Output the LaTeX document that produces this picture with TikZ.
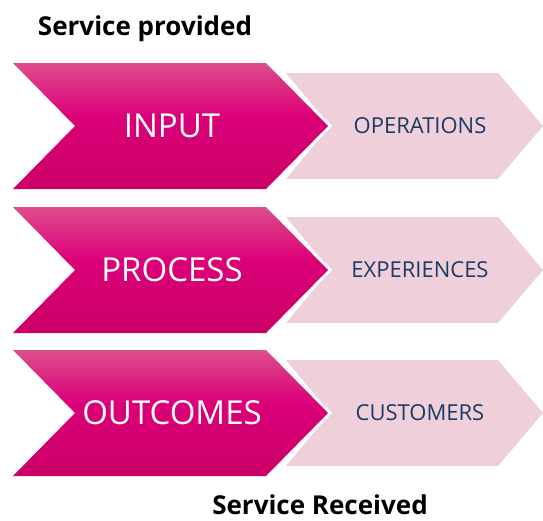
\documentclass[tikz,border=0pt]{standalone}
\usepackage{fontspec}
\setmainfont{Open Sans}
\usetikzlibrary{positioning}
\definecolor{pinktop}{HTML}{DD4E8C}
\definecolor{pinkvivid}{HTML}{DB0078}
\definecolor{pinkbot}{HTML}{CB0068}
\definecolor{pinklight}{HTML}{EFD0DA}
\definecolor{navytext}{HTML}{1B3A66}
\pgfdeclareverticalshading{chevshade}{100bp}{color(0bp)=(pinkbot); color(25bp)=(pinkbot); color(54bp)=(pinkvivid); color(75bp)=(pinktop); color(100bp)=(pinktop)}
\tikzset{
  darkchev/.style={shading=chevshade},
  lightchev/.style={fill=pinklight},
  stagetext/.style={text=white, font=\fontsize{33}{38}\selectfont, inner sep=0pt},
  whattext/.style={text=navytext, font=\fontsize{22}{26}\selectfont, inner sep=0pt},
  heading/.style={font=\fontsize{26}{30}\selectfont\bfseries, inner sep=0pt}
}
\begin{document}
\begin{tikzpicture}[x=1pt, y=-1pt]
\useasboundingbox (0,0) rectangle (543,520);
\foreach \y/\stage/\what [count=\i] in {126/INPUT/OPERATIONS, 270/PROCESS/EXPERIENCES, 413/OUTCOMES/CUSTOMERS}{
  % light chevron behind
  \fill[lightchev] (286,\y-53) -- (498,\y-53) -- (543,\y) -- (498,\y+53) -- (286,\y+53) -- (330,\y) -- cycle;
  % white rim, then the dark chevron
  \draw[white, line width=6pt, line join=miter] (13,\y-63) -- (266,\y-63) -- (328,\y) -- (266,\y+63) -- (13,\y+63) -- (75,\y) -- cycle;
  \shade[darkchev] (13,\y-63) -- (266,\y-63) -- (328,\y) -- (266,\y+63) -- (13,\y+63) -- (75,\y) -- cycle;
  \node[stagetext] (stage\i) at (172,\y) {\stage};
  \node[whattext] (what\i) at (420,\y) {\what};
}
\node[heading] (provided) at (145,29) {Service provided};
\node[heading] (received) at (320,505) {Service Received};
\end{tikzpicture}
\end{document}
